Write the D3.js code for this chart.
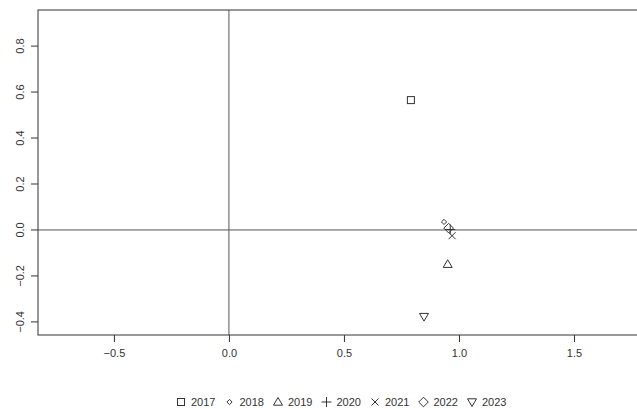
<!DOCTYPE html>
<html><head><meta charset="utf-8">
<script src="https://cdn.jsdelivr.net/npm/d3@7"></script>
<style>body{margin:0;background:#fff}svg{display:block}</style>
</head><body>
<script>
const years = ["2017","2018","2019","2020","2021","2022","2023"];
const shapes = ["square","smalldiamond","triangle","plus","cross","diamond","triangledown"];
const xVals = [0.791, 0.935, 0.951, 0.962, 0.97, 0.955, 0.848];
const yVals = [0.565, 0.035, -0.149, 0.002, -0.025, 0.008, -0.377];
const xTicks = [-0.5, 0.0, 0.5, 1.0, 1.5];
const yTicks = [-0.4, -0.2, 0.0, 0.2, 0.4, 0.6, 0.8];

const W = 637, H = 409;
const svg = d3.select("body").append("svg").attr("width", W).attr("height", H);
const L = 38, T = 10, B = 335, R = 645;
const x = d3.scaleLinear().domain([-0.830, (R-229)/230]).range([L, R]);
const y = d3.scaleLinear().domain([-0.457, 0.957]).range([B, T]);
const font = "Liberation Sans, Arial, sans-serif";

function sym(g, shape, cx, cy, s) {
  const col = "#333";
  const p = d3.path();
  if (shape === "square") { g.append("rect").attr("x", cx-3.5).attr("y", cy-3.5).attr("width",7).attr("height",7).attr("fill","none").attr("stroke",col); return; }
  if (shape === "smalldiamond") { p.moveTo(cx, cy-2.6); p.lineTo(cx+2.6, cy); p.lineTo(cx, cy+2.6); p.lineTo(cx-2.6, cy); p.closePath(); }
  if (shape === "diamond") { p.moveTo(cx, cy-4.8); p.lineTo(cx+4.8, cy); p.lineTo(cx, cy+4.8); p.lineTo(cx-4.8, cy); p.closePath(); }
  if (shape === "triangle") { p.moveTo(cx, cy-4.5); p.lineTo(cx+4.5, cy+3.2); p.lineTo(cx-4.5, cy+3.2); p.closePath(); }
  if (shape === "triangledown") { p.moveTo(cx, cy+4.5); p.lineTo(cx+4.5, cy-3.2); p.lineTo(cx-4.5, cy-3.2); p.closePath(); }
  if (shape === "plus") { p.moveTo(cx-5, cy); p.lineTo(cx+5, cy); p.moveTo(cx, cy-5); p.lineTo(cx, cy+5); }
  if (shape === "cross") { p.moveTo(cx-3.5, cy-3.5); p.lineTo(cx+3.5, cy+3.5); p.moveTo(cx+3.5, cy-3.5); p.lineTo(cx-3.5, cy+3.5); }
  g.append("path").attr("d", p.toString()).attr("fill","none").attr("stroke",col).attr("stroke-width",1);
}

// zero lines
svg.append("line").attr("x1", L).attr("x2", W).attr("y1", y(0)).attr("y2", y(0)).attr("stroke","#555");
svg.append("line").attr("x1", x(0)).attr("x2", x(0)).attr("y1", T).attr("y2", B).attr("stroke","#555");

// box
svg.append("rect").attr("x", L).attr("y", T).attr("width", R-L).attr("height", B-T).attr("fill","none").attr("stroke","#333");

// x axis
const xa = svg.append("g").attr("transform", `translate(0,${B})`)
  .call(d3.axisBottom(x).tickValues(xTicks).tickFormat(d3.format(".1f")).tickSize(7).tickPadding(7));
xa.select(".domain").remove();
xa.selectAll("line").attr("stroke","#333");
xa.selectAll("text").attr("font-family", font).attr("font-size", 11).attr("fill","#333");

// y axis
const ya = svg.append("g").attr("transform", `translate(${L},0)`)
  .call(d3.axisLeft(y).tickValues(yTicks).tickFormat(d3.format(".1f")).tickSize(7).tickPadding(0));
ya.select(".domain").remove();
ya.selectAll("line").attr("stroke","#333");
ya.selectAll("text").attr("font-family", font).attr("font-size", 11).attr("fill","#333")
  .attr("text-anchor","middle").attr("x", 0).attr("dy", 0)
  .attr("transform", d => `translate(-14,${y(d)}) rotate(-90)`).attr("y", 0);
ya.selectAll(".tick").attr("transform", null);
ya.selectAll(".tick line").attr("transform", d => `translate(0,${y(d)})`);

// points
const pg = svg.append("g");
years.forEach((yr, i) => sym(pg, shapes[i], x(xVals[i]), y(yVals[i])));

// legend
const lg = svg.append("g");
years.forEach((yr, i) => {
  const cx = 181 + i * 48.5;
  sym(lg, shapes[i], cx, 402);
  lg.append("text").attr("x", cx + 10).attr("y", 406).attr("font-family", font).attr("font-size", 11).attr("fill","#333").text(yr);
});
</script>
</body></html>
